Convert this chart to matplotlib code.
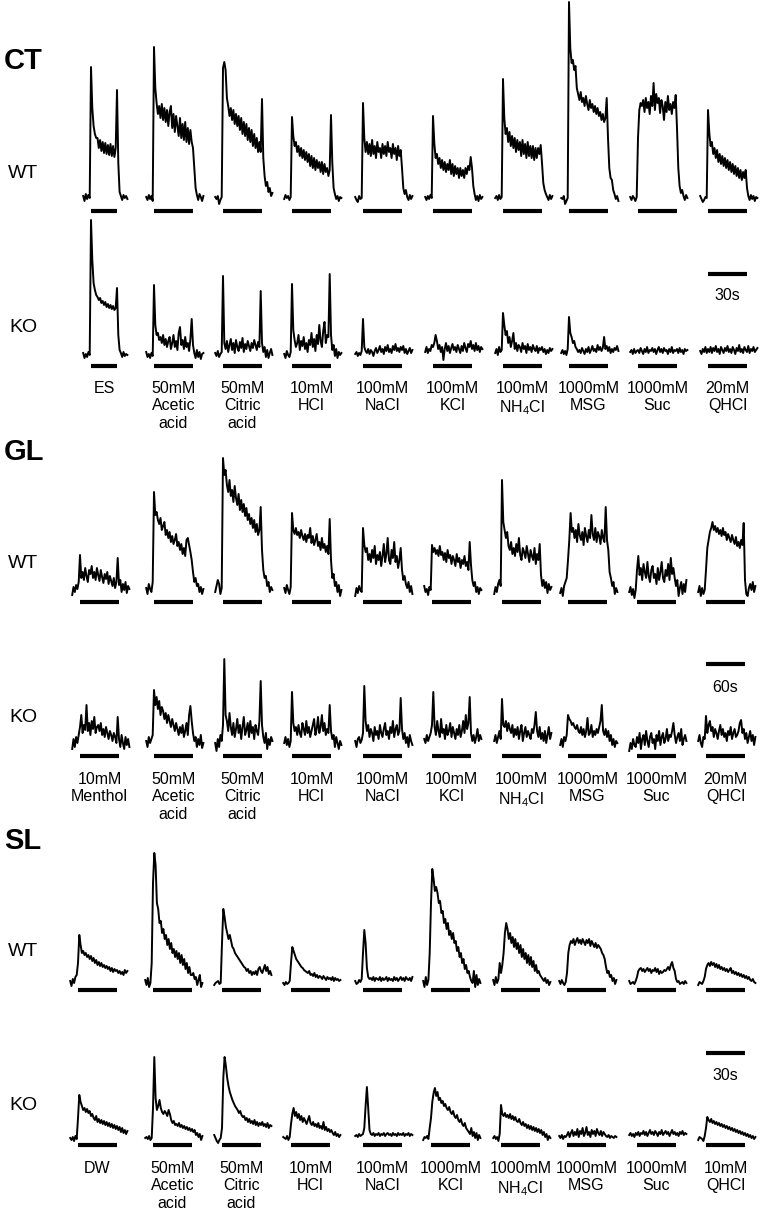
import numpy as np
import matplotlib.pyplot as plt

plt.rcParams['font.family'] = ['Liberation Sans', 'DejaVu Sans']
plt.rcParams['mathtext.fontset'] = 'custom'
plt.rcParams['mathtext.rm'] = 'Liberation Sans'

# nerve responses, arbitrary units (baseline = 0), first 6 samples are pre-stimulus
# CT and SL: 1 sample / s, GL: 1 sample / 2 s
ct_labels = ['ES', '50mM\nAcetic\nacid', '50mM\nCitric\nacid', '10mM\nHCl', '100mM\nNaCl',
             '100mM\nKCl', '100mM\nNH$_4$Cl', '1000mM\nMSG', '1000mM\nSuc', '20mM\nQHCl']
gl_labels = ['10mM\nMenthol', '50mM\nAcetic\nacid', '50mM\nCitric\nacid', '10mM\nHCl', '100mM\nNaCl',
             '100mM\nKCl', '100mM\nNH$_4$Cl', '1000mM\nMSG', '1000mM\nSuc', '20mM\nQHCl']
sl_labels = ['DW', '50mM\nAcetic\nacid', '50mM\nCitric\nacid', '10mM\nHCl', '100mM\nNaCl',
             '1000mM\nKCl', '1000mM\nNH$_4$Cl', '1000mM\nMSG', '1000mM\nSuc', '10mM\nQHCl']

ct_stim = [20, 30, 30, 30, 30, 30, 30, 30, 30, 30]   # s
gl_stim = [60] * 10
sl_stim = [30] * 10

ct_wt = [
    [2, -3, 4, -1, 3, 0, 131, 90, 72, 64, 60, 60, 50, 58, 47, 56, 45, 55, 44, 53, 43, 54, 42, 52, 41, 50, 108, 35, 6, 2, -2, 3, 0, 2, -1],
    [1, -2, 3, -1, 2, -3, 151, 110, 95, 84, 92, 80, 94, 78, 90, 76, 88, 72, 86, 92, 70, 84, 66, 82, 72, 62, 80, 60, 74, 58, 76, 56, 70, 54, 68, 56, 50, 30, 10, 3, -2, 4, 1, -3, 2],
    [1, -1, 2, -6, -2, 1, 130, 136, 128, 100, 92, 82, 90, 78, 88, 74, 84, 72, 82, 68, 80, 64, 76, 62, 74, 58, 70, 56, 68, 52, 64, 50, 60, 46, 56, 46, 99, 40, 22, 12, 16, 6, 10, 2, 5],
    [-1, 3, 0, 2, -2, 1, 81, 62, 52, 56, 46, 52, 42, 50, 40, 48, 38, 46, 36, 44, 32, 42, 30, 40, 28, 38, 30, 36, 26, 36, 24, 34, 26, 30, 22, 28, 83, 35, 10, 4, -1, 2, -3, 1, 0],
    [1, -2, -4, 2, -1, 0, 95, 60, 46, 56, 44, 54, 42, 58, 44, 52, 40, 56, 46, 50, 40, 54, 44, 52, 42, 56, 46, 50, 40, 54, 44, 50, 38, 52, 42, 48, 30, 10, 4, 8, 1, -2, 3, -1, 2],
    [1, -2, 2, -1, 3, 0, 82, 55, 40, 44, 34, 40, 30, 38, 28, 36, 26, 34, 28, 38, 24, 34, 22, 32, 24, 30, 20, 30, 22, 28, 20, 30, 24, 32, 28, 41, 30, 12, 4, -2, 2, -3, 3, -1, 1],
    [0, 2, -2, 3, -1, 1, 119, 80, 64, 70, 56, 66, 52, 62, 50, 60, 46, 58, 48, 56, 42, 58, 44, 54, 40, 56, 42, 52, 40, 52, 38, 50, 40, 50, 44, 53, 35, 15, 8, 4, 1, -2, 3, -1, 2],
    [0, -1, 2, -6, -3, 0, 196, 150, 135, 138, 128, 132, 110, 104, 98, 106, 96, 100, 92, 102, 94, 88, 98, 90, 94, 86, 92, 84, 90, 82, 86, 78, 84, 76, 80, 100, 60, 30, 20, 18, 8, 4, -1, 2, -3],
    [1, -2, 2, 0, -3, 1, 60, 88, 95, 92, 98, 86, 100, 90, 96, 84, 102, 92, 115, 88, 104, 95, 100, 85, 98, 92, 78, 96, 86, 102, 88, 94, 84, 96, 90, 103, 70, 30, 12, 5, 8, 2, -2, 3, 0],
    [2, -1, -4, -2, 1, 0, 88, 65, 52, 56, 44, 50, 40, 48, 36, 44, 34, 42, 32, 40, 30, 38, 28, 36, 26, 34, 24, 32, 22, 30, 20, 28, 18, 26, 20, 28, 10, 2, -2, 3, -1, 2, -3, 1, 0],
]
ct_ko = [
    [2, -3, 1, -2, 3, 0, 135, 95, 72, 65, 60, 58, 55, 57, 52, 54, 50, 53, 48, 51, 47, 50, 46, 49, 45, 47, 67, 20, 5, 2, -2, 3, -1, 1, 0],
    [3, -2, 1, -3, 2, -1, 70, 30, 20, 22, 15, 18, 12, 20, 10, 16, 8, 14, 18, 6, 12, 20, 8, 14, 5, 22, 28, 10, 15, 6, 18, 8, 12, 4, 16, 36, 10, 2, -3, 5, -2, 3, -4, 1, 2],
    [2, -1, 4, -2, 1, 3, 79, 12, 6, 14, 3, 10, 16, 5, 12, 2, 15, 8, 4, 13, 7, 17, 3, 11, 6, 14, 9, 4, 12, 7, 15, 10, 5, 13, 8, 64, 12, 3, 8, -2, 5, -3, 2, 6, 0],
    [1, -3, 4, 0, -2, 3, 71, 25, 15, 8, 12, 20, 5, 14, 9, 18, 6, 12, 3, 15, 10, 22, 8, 16, 4, 20, 11, 30, 14, 8, 24, 33, 12, 20, 18, 81, 20, 5, 10, -1, 6, -3, 3, 0, 2],
    [1, 3, -1, 2, 0, 4, 36, 8, 4, 2, 6, 1, 5, 3, -1, 4, 7, 2, 5, 9, 3, 6, 1, 8, 4, 10, 3, 6, 2, 9, 5, 11, 4, 7, 3, 8, 5, 9, 2, 6, 1, 4, 7, 2, 5],
    [3, 8, 2, 6, 4, 10, 8, 12, 20, 14, 6, 10, 3, 8, -5, 6, 12, 4, 9, 2, 7, 11, 5, 8, 3, 10, 6, 2, 9, 4, 12, 7, 3, 11, 8, 14, 6, 10, 4, 12, 5, 9, 3, 8, 6],
    [2, 6, 0, 8, 3, 5, 42, 30, 20, 24, 12, 18, 8, 14, 22, 6, 12, 4, 10, 8, 3, 12, 6, 9, 2, 11, 5, 8, 3, 10, 6, 4, 9, 2, 7, 5, 8, 3, 6, 1, 5, 2, 7, 4, 6],
    [2, 5, 1, 4, 0, 6, 38, 22, 18, 12, 14, 8, 6, 3, 5, 2, 7, 4, 1, 6, 3, 8, 2, 5, 9, 4, 6, 3, 10, 5, 8, 4, 7, 18, 6, 9, 4, 8, 2, 6, 3, 7, 5, 9, 4],
    [3, 5, 1, 6, 2, 4, 5, 2, 7, 4, 1, 6, 3, 8, 2, 5, 4, 7, 3, 6, 1, 5, 8, 3, 6, 2, 7, 4, 5, 1, 6, 3, 8, 2, 5, 4, 6, 2, 7, 3, 5, 1, 6, 4, 5],
    [4, 1, 6, 3, 8, 2, 6, 3, 8, 2, 7, 4, 9, 3, 6, 1, 8, 5, 2, 7, 4, 9, 3, 6, 2, 8, 5, 1, 7, 4, 10, 3, 6, 2, 8, 5, 3, 9, 2, 6, 4, 8, 3, 5, 7],
]
gl_wt = [
    [-5, 3, -2, 5, 1, 8, 35, 12, 18, 10, 22, 14, 8, 20, 16, 24, 12, 18, 10, 22, 15, 9, 20, 13, 7, 16, 11, 18, 6, 14, 9, 4, 12, 2, 8, 32, 5, 10, -2, 6, 0, 8, -3, 4, 1],
    [2, -4, 6, 1, -2, 8, 98, 75, 78, 70, 66, 72, 60, 64, 68, 55, 60, 52, 58, 48, 54, 46, 50, 56, 44, 48, 40, 46, 36, 42, 34, 50, 52, 45, 38, 30, 18, 8, 12, 4, 6, -2, 3, -4, 1],
    [-2, 4, 10, 6, -4, 2, 132, 115, 120, 105, 98, 110, 94, 100, 88, 104, 92, 85, 96, 80, 90, 78, 86, 74, 82, 70, 76, 66, 72, 62, 70, 58, 66, 55, 60, 83, 40, 20, 12, 14, 4, 8, -2, 3, 0],
    [2, -3, 5, 0, -4, 3, 77, 60, 56, 62, 55, 58, 52, 60, 54, 50, 56, 48, 55, 52, 62, 47, 54, 45, 50, 56, 44, 48, 40, 52, 42, 46, 38, 44, 36, 71, 30, 12, 16, 4, 8, -2, 5, -6, 0],
    [-6, 2, -3, 4, 0, -2, 62, 45, 38, 42, 30, 36, 28, 40, 32, 44, 26, 35, 30, 38, 24, 34, 46, 28, 36, 52, 30, 26, 40, 32, 48, 28, 34, 22, 30, 42, 20, 10, 14, 6, 2, 8, -2, 4, -4],
    [4, -2, 1, -5, 3, 0, 45, 38, 42, 36, 40, 34, 44, 35, 38, 30, 37, 28, 40, 32, 35, 26, 34, 30, 24, 36, 28, 32, 22, 30, 26, 34, 24, 28, 20, 48, 25, 10, 4, 8, -2, 3, -4, 2, 0],
    [-4, 3, -2, 6, 10, 4, 110, 68, 60, 52, 58, 44, 40, 48, 36, 42, 34, 46, 38, 52, 35, 30, 42, 38, 32, 44, 36, 28, 40, 34, 30, 42, 26, 36, 30, 46, 15, 4, 10, 2, 8, -3, 6, 0, 3],
    [-3, 2, -6, 4, 8, 12, 30, 50, 77, 58, 62, 52, 60, 48, 66, 55, 50, 58, 45, 62, 54, 48, 60, 52, 75, 56, 50, 62, 48, 58, 54, 46, 60, 52, 48, 83, 50, 40, 18, 12, 4, 8, -4, 2, -2],
    [-2, 3, -5, 1, -8, 0, 20, 34, 15, 22, 10, 26, 18, 12, 28, 14, 8, 20, 24, 12, 16, 6, 22, 10, 18, 28, 12, 8, 20, 14, 26, 10, 32, 16, 22, 12, 4, 10, -6, 2, 8, -4, 6, -2, 10],
    [-2, 4, -6, 2, -4, 0, 20, 42, 50, 58, 62, 68, 60, 64, 58, 62, 56, 60, 54, 62, 55, 58, 50, 56, 52, 48, 55, 50, 46, 53, 44, 48, 42, 50, 45, 67, 10, -4, -6, 2, 6, 0, 8, -2, 4],
]
gl_ko = [
    [-4, 6, -2, 8, 2, 10, 18, 30, 12, 20, 15, 40, 14, 22, 10, 24, 16, 28, 12, 18, 20, 14, 22, 10, 16, 8, 18, 12, 6, 14, 10, 4, 12, 8, 2, 28, 6, -2, 10, 2, -4, 8, 0, 6, -2],
    [4, -2, 8, 2, 6, 10, 55, 40, 48, 36, 44, 30, 38, 34, 26, 32, 22, 30, 24, 18, 26, 20, 14, 22, 16, 10, 18, 12, 20, 8, 14, 22, 10, 30, 39, 24, 12, 4, 8, -2, 6, 0, 10, -3, 2],
    [2, -6, 6, -2, 10, 4, 20, 86, 30, 24, 14, 32, 18, 10, 22, 8, 16, 26, 12, 20, 6, 18, 28, 10, 15, 22, 8, 24, 12, 18, 6, 20, 14, 10, 24, 64, 20, 8, 2, 12, -4, 6, 0, 8, 4],
    [2, 8, 0, 6, -2, 4, 53, 22, 14, 18, 10, 20, 12, 8, 22, 16, 10, 24, 12, 18, 8, 14, 20, 26, 10, 16, 28, 12, 18, 30, 14, 22, 10, 16, 12, 40, 14, 6, 10, -2, 8, 2, -4, 4, 0],
    [4, -2, 6, 8, 2, 5, 12, 59, 24, 14, 20, 8, 16, 12, 4, 18, 10, 14, 6, 20, 12, 8, 16, 22, 10, 14, 6, 18, 12, 24, 8, 16, 20, 10, 14, 47, 16, 6, 12, 2, 8, -2, 10, 4, 0],
    [6, 2, 10, 4, 8, 12, 20, 53, 18, 10, 24, 14, 8, 26, 12, 16, 6, 20, 10, 14, 22, 8, 18, 12, 6, 16, 10, 20, 8, 14, 24, 12, 30, 16, 22, 48, 12, 4, 10, 2, 8, 16, 4, 10, 6],
    [4, 10, 2, 8, 14, 6, 46, 20, 18, 24, 14, 22, 16, 12, 20, 8, 16, 10, 18, 6, 14, 20, 4, 12, 18, 8, 14, 10, 6, 16, 12, 20, 33, 14, 8, 18, 6, 12, 4, 14, 2, 10, 18, 6, 12],
    [0, 6, -2, 8, 4, 10, 30, 26, 24, 20, 22, 18, 16, 20, 14, 12, 18, 10, 16, 8, 14, 27, 10, 12, 20, 8, 14, 10, 16, 12, 18, 24, 40, 14, 10, 16, 8, 14, 4, 10, 0, 6, -2, 4, 2],
    [-6, 2, -4, 6, 0, -2, 8, 2, 12, -4, 6, 10, 0, 14, 4, -2, 8, 12, 2, 6, -4, 10, 4, 14, 0, 8, 12, 2, 6, 16, 4, 10, 8, 14, 22, 10, 2, 8, 12, 4, 16, 0, 6, 10, 4],
    [4, 10, 2, -2, 8, 6, 29, 12, 20, 24, 14, 18, 8, 16, 12, 6, 14, 20, 10, 16, 8, 12, 4, 14, 10, 18, 6, 12, 16, 8, 10, 14, 22, 25, 12, 16, 6, 12, 2, 8, 14, 4, 10, 0, 8],
]
sl_wt = [
    [2, -3, 4, 0, 6, 8, 20, 48, 38, 30, 32, 28, 30, 26, 28, 24, 27, 22, 25, 20, 23, 18, 21, 17, 20, 16, 18, 15, 17, 14, 16, 12, 15, 11, 14, 12, 13, 10, 12, 9, 11, 8, 13, 10, 12],
    [3, -2, 5, -4, 0, 20, 100, 130, 118, 80, 74, 60, 62, 50, 54, 44, 48, 38, 44, 34, 40, 30, 34, 26, 32, 24, 30, 20, 28, 18, 24, 14, 20, 10, 16, 8, 8, 10, 4, 6, -2, 3, 8, -4, 0],
    [-2, 0, 1, 2, -1, 0, 40, 74, 66, 56, 50, 44, 48, 42, 36, 34, 30, 28, 26, 24, 22, 20, 18, 16, 15, 12, 14, 10, 12, 8, 11, 9, 12, 8, 14, 16, 12, 10, 14, 18, 12, 16, 9, 12, 8],
    [0, -2, 1, -1, 0, 2, 20, 36, 32, 28, 24, 22, 20, 18, 16, 15, 13, 12, 11, 10, 12, 8, 9, 7, 10, 6, 8, 5, 7, 6, 4, 7, 5, 3, 6, 4, 5, 3, 6, 2, 5, 3, 4, 2, 3],
    [2, -1, 0, 3, 1, 4, 30, 53, 40, 15, 6, 4, 5, 3, 6, 2, 5, 4, 3, 6, 2, 5, 3, 4, 6, 2, 5, 3, 4, 2, 6, 3, 5, 2, 4, 6, 3, 5, 2, 6, 4, 3, 5, 2, 6],
    [2, -4, 6, -2, 3, 30, 80, 114, 104, 92, 96, 90, 80, 82, 70, 72, 60, 64, 54, 60, 48, 52, 44, 50, 40, 42, 32, 36, 26, 30, 20, 24, 14, 18, 10, 12, 6, 2, 0, 12, -4, 8, -2, 4, 0],
    [3, -2, 6, 0, 4, 20, 10, 18, 30, 50, 60, 54, 44, 50, 40, 46, 36, 44, 34, 40, 30, 38, 26, 34, 24, 30, 20, 28, 18, 26, 16, 22, 12, 18, 10, 12, 8, 6, 4, 2, 5, 0, 3, -2, 1],
    [2, -1, 3, 0, -2, 1, 10, 30, 38, 42, 40, 44, 38, 42, 45, 40, 43, 39, 44, 41, 38, 43, 40, 44, 37, 42, 39, 36, 40, 35, 38, 36, 34, 30, 28, 24, 16, 10, 12, 6, 8, 2, 5, -1, 3],
    [2, -1, 0, 1, -1, 2, 6, 12, 14, 15, 12, 14, 11, 13, 15, 12, 14, 10, 13, 12, 15, 11, 14, 9, 12, 10, 11, 13, 12, 14, 16, 13, 18, 21, 15, 12, 4, 1, 2, -1, 0, 1, -1, 2, 0],
    [-2, 1, 0, -1, 2, 6, 14, 18, 20, 17, 21, 18, 20, 16, 19, 15, 18, 14, 16, 13, 15, 12, 14, 11, 13, 15, 10, 12, 9, 11, 8, 10, 7, 9, 6, 8, 5, 7, 4, 6, 3, 2, 4, 1, 0],
]
sl_ko = [
    [0, -2, 1, -3, 2, -1, 20, 43, 36, 32, 28, 30, 26, 29, 25, 27, 22, 24, 20, 18, 22, 16, 19, 15, 18, 14, 17, 13, 16, 12, 15, 11, 14, 10, 13, 9, 12, 8, 11, 6, 10, 5, 8, 4, 7],
    [0, 1, -1, 2, -2, 0, 30, 81, 40, 28, 32, 38, 30, 26, 24, 27, 25, 22, 28, 24, 18, 15, 17, 13, 14, 12, 15, 11, 13, 10, 12, 9, 11, 8, 10, 7, 9, 6, 8, 3, 5, 1, 4, -2, 2],
    [3, 0, -3, -5, -2, 0, 10, 60, 81, 72, 60, 52, 46, 42, 38, 35, 32, 30, 28, 25, 27, 23, 21, 22, 18, 20, 16, 19, 15, 17, 14, 18, 13, 16, 12, 15, 13, 16, 12, 14, 11, 15, 10, 13, 12],
    [1, 0, -1, 2, -2, 1, 14, 24, 30, 22, 26, 20, 24, 18, 22, 16, 20, 17, 14, 18, 22, 15, 13, 16, 12, 14, 11, 15, 10, 12, 9, 16, 8, 11, 7, 9, 6, 8, 5, 3, 6, 2, 4, 1, 3],
    [2, 3, 1, 4, 2, 3, 4, 10, 32, 51, 30, 8, 4, 3, 5, 2, 4, 3, 5, 2, 4, 3, 5, 2, 4, 5, 3, 4, 2, 5, 3, 4, 2, 5, 3, 4, 3, 5, 2, 4, 3, 5, 2, 4, 3],
    [-2, 1, 0, 2, -1, 10, 20, 36, 45, 50, 42, 46, 38, 40, 35, 37, 32, 34, 30, 28, 31, 26, 24, 27, 22, 20, 23, 18, 16, 19, 14, 12, 15, 10, 8, 6, 4, 10, 2, 6, 0, 5, -2, 3, 0],
    [0, 2, -1, 1, -3, 4, 33, 24, 22, 25, 21, 23, 20, 24, 19, 22, 18, 21, 17, 16, 19, 15, 13, 16, 12, 14, 10, 13, 9, 12, 8, 11, 7, 10, 6, 9, 5, 8, 3, 6, 1, 4, -2, 2, 0],
    [2, 0, 3, -1, 2, 1, 3, 6, 1, 5, 8, 2, 6, 3, 9, 1, 7, 4, 10, 2, 5, 11, 3, 6, 1, 8, 4, 7, 2, 9, 5, 3, 7, 2, 6, 4, 2, 1, 3, 0, 2, 1, 0, 2, 1],
    [3, 5, 2, 4, 1, 5, 3, 6, 2, 5, 4, 7, 3, 6, 2, 5, 8, 4, 6, 3, 7, 5, 2, 6, 4, 8, 3, 5, 7, 4, 6, 2, 5, 8, 4, 6, 3, 5, 2, 6, 4, 7, 3, 5, 4],
    [-2, 1, 0, -1, -3, 2, 10, 21, 18, 16, 19, 15, 17, 14, 16, 13, 15, 12, 14, 11, 13, 10, 12, 9, 11, 8, 10, 7, 9, 6, 8, 5, 7, 4, 6, 3, 5, 2, 4, 1, 3, 0, 2, -1, 1],
]

# ---- layout (pixels of a 760 x 1213 figure) ----
W, H = 760, 1213
N_PRE = 6
sections = [
    dict(name='CT', name_y=61, labels=ct_labels, stim=ct_stim, step=1, pxs=1.3,
         onsets=[91, 154, 223, 292, 363, 433, 503, 569, 638, 708],
         rows=[(ct_wt, 'WT', 173, 198, -13, 200), (ct_ko, 'KO', 327, 355, -11, 100)],
         lab_y=381, scale=(30, '30s', 81, 59)),
    dict(name='GL', name_y=452, labels=gl_labels, stim=gl_stim, step=2, pxs=0.65,
         onsets=[80, 154, 223, 292, 363, 432, 502, 568, 637, 706],
         rows=[(gl_wt, 'WT', 563, 590, -12, 140), (gl_ko, 'KO', 717, 745, -11, 100)],
         lab_y=772, scale=(60, '60s', 81, 58)),
    dict(name='SL', name_y=841, labels=sl_labels, stim=sl_stim, step=1, pxs=1.3,
         onsets=[78, 153, 222, 291, 363, 431, 501, 567, 637, 706],
         rows=[(sl_wt, 'WT', 952, 983, -7, 140), (sl_ko, 'KO', 1105, 1138, -7, 100)],
         lab_y=1161, scale=(30, '30s', 85, 63)),
]

fig = plt.figure(figsize=(W / 100, H / 100), dpi=100)
YLO = -20

for sec in sections:
    fig.text(4 / W, 1 - sec['name_y'] / H, sec['name'], fontsize=21, fontweight='bold',
             va='center', ha='left')
    step, pxs = sec['step'], sec['pxs']
    tlo, thi = -10 * step, 45 * step
    for r, (traces, rlab, rlab_y, base, bar_y, yhi) in enumerate(sec['rows']):
        fig.text(23 / W, 1 - rlab_y / H, rlab, fontsize=14, va='center', ha='center')
        for c, trace in enumerate(traces):
            x0 = sec['onsets'][c] + tlo * pxs
            ax = fig.add_axes([x0 / W, 1 - (base - YLO) / H,
                               (thi - tlo) * pxs / W, (yhi - YLO) / H])
            ax.set_xlim(tlo, thi)
            ax.set_ylim(YLO, yhi)
            ax.axis('off')
            t = (np.arange(len(trace)) - N_PRE) * step
            ax.plot(t, trace, color='black', lw=1.4, clip_on=False)
            ax.plot([0, sec['stim'][c]], [bar_y, bar_y], color='black', lw=3.0,
                    solid_capstyle='butt')
            if r == 1 and c == len(traces) - 1:
                dur, txt, sy, ty = sec['scale']
                ax.plot([0, dur], [sy, sy], color='black', lw=3.0, solid_capstyle='butt')
                ax.text(dur / 2, ty, txt, ha='center', va='center', fontsize=11.5)
    for c, lab in enumerate(sec['labels']):
        xc = sec['onsets'][c] + sec['stim'][c] * pxs / 2
        fig.text(xc / W, 1 - sec['lab_y'] / H, lab, ha='center', va='top',
                 fontsize=11.5, linespacing=1.2)

fig.savefig('out.png', dpi=100)
